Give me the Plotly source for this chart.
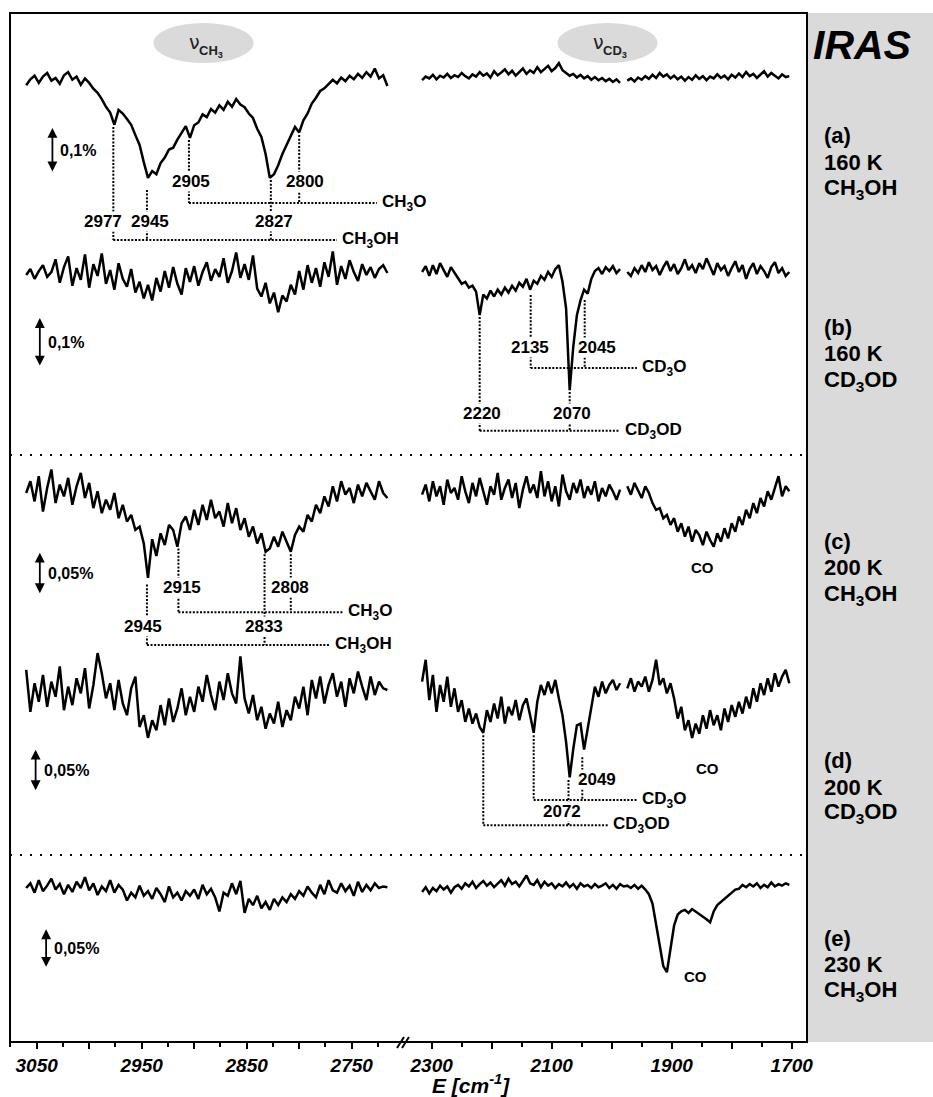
import numpy as np
import plotly.graph_objects as go

FONT = "Liberation Sans, Arial, Helvetica, sans-serif"

# ---------------------------------------------------------------- data
# wavenumber grids (cm^-1) of the two spectral windows
nu_CH = np.arange(3060, 2713, -4)   # nu(CH3) window, 87 points
nu_CD = np.arange(2316, 1700, -6)   # nu(CD3) / CO window, 103 points

# Delta R / R in units of 1e-5 (= 0.001 %); None marks a gap in the recording
a_ch = [-7, 6, 14, -2, 12, 20, 3, 9, -4, 15,
        22, 5, 12, -6, 8, -2, -15, -24, -38, -55,
        -68, -95, -62, -70, -82, -95, -118, -140, -178, -213,
        -198, -205, -180, -168, -150, -146, -128, -112, -98, -124,
        -96, -90, -72, -78, -60, -68, -52, -62, -44, -55,
        -38, -50, -56, -70, -80, -104, -122, -160, -213, -205,
        -185, -160, -140, -118, -100, -112, -85, -70, -48, -35,
        -20, -14, -4, 5, -3, 10, 2, 14, 6, 18,
        9, 22, 12, 30, 8, 15, -9]
a_cd = [4, 12, 8, 16, 6, 14, 10, 18, 9, 15,
        11, 20, 13, 8, 17, 12, 22, 14, 19, 10,
        24, 15, 21, 28, 17, 25, 14, 22, 30, 18,
        26, 20, 33, 22, 28, 36, 24, 31, 42, 26,
        20, 14, 18, 10, 16, 8, 13, 5, 11, 4,
        9, 2, 7, 0, 6, -2, None, 3, 8, 1,
        10, 5, 13, 7, 16, 9, 20, 12, 17, 8,
        14, 6, 12, 3, 11, 5, 15, 7, 13, 4,
        12, 8, 17, 9, 14, 6, 16, 10, 19, 11,
        22, 13, 18, 9, 16, 24, 12, 20, 14, 8,
        17, 11, 13]

b_ch = [-4, 8, -12, 4, 16, -8, 2, 28, -20, 12,
        34, -26, 10, -14, 38, -30, 18, -6, 40, -22,
        6, -34, 20, -12, -28, 8, -40, -18, -52, -24,
        -56, -10, -38, 4, -30, 12, -22, -44, 10, -18,
        14, -26, 2, 22, -16, 8, -8, 30, -20, 4,
        42, -10, 18, -14, 36, -32, -48, -20, -62, -40,
        -80, -46, -58, -24, -44, 4, -34, 16, -20, 10,
        -28, 22, -8, 44, -24, 14, -12, 26, 2, -16,
        18, -4, 12, -10, 8, 16, 0]
b_cd = [2, 14, -6, 16, -2, 20, 6, -8, 12, 0,
        -10, -22, -18, -30, -26, -38, -86, -44, -52, -36,
        -48, -34, -44, -30, -40, -26, -36, -20, -28, -12,
        -34, -16, -22, -6, -14, 2, -8, 8, 16, -18,
        -72, -239, -150, -86, -56, -34, -42, -12, 4, 10,
        -2, 12, 4, 14, 0, 8, None, 2, -6, 10,
        0, 16, 2, 22, 6, 14, -4, 12, 24, 4,
        18, -2, 10, 28, 6, 16, 0, 20, 8, 30,
        12, -4, 20, 6, 14, -6, 10, 24, 2, 16,
        -12, 8, 20, -2, 14, 4, -10, 12, 22, 0,
        10, -6, 2]

c_ch = [0, 14, -10, 20, -22, 6, 28, -12, 10, -4,
        18, -14, 8, 24, -6, 12, -18, 2, -24, -8,
        -20, 0, -30, -14, -34, -26, -44, -40, -60, -101,
        -55, -75, -48, -62, -38, -44, -64, -36, -28, -44,
        -20, -38, -14, -32, -8, -30, -22, -40, -12, -36,
        -18, -44, -30, -52, -40, -60, -48, -70, -66, -52,
        -64, -46, -58, -70, -50, -40, -46, -26, -34, -14,
        -24, -4, -16, 8, -10, 14, -2, 6, -12, 10,
        -4, 12, 2, -8, 14, 0, -6]
c_cd = [-2, 10, -10, 14, -4, 8, -14, 16, 0, 6,
        -8, 20, 2, -12, 12, -4, 18, 2, -14, 8,
        -2, 24, -8, 6, 16, -6, 12, -18, 4, 20,
        0, 10, -6, 26, -4, 14, -10, 8, -16, 22,
        2, -8, 12, 0, 16, -6, 8, -2, 14, -10,
        6, -4, 10, 2, -8, 4, None, 8, -2, 12,
        2, -6, 8, 0, -12, -20, -18, -30, -26, -38,
        -30, -46, -36, -52, -40, -58, -44, -50, -62, -46,
        -56, -64, -48, -58, -42, -54, -36, -46, -28, -38,
        -20, -30, -12, -24, -6, -16, 2, -8, 6, 20,
        -4, 8, 2]

d_ch = [24, -26, 8, -14, 18, -20, 10, -8, 28, -24,
        4, -18, 14, -4, 26, -22, 6, 44, 20, -10,
        8, -24, 12, -16, -30, 2, 16, -44, -30, -57,
        -36, -48, -18, -42, -10, -38, -22, 2, -30, -8,
        -26, 4, -14, 18, -6, -24, 10, -12, 20, -4,
        -16, 40, -10, -28, -6, -36, -20, -46, -28, -40,
        -14, -44, -24, -36, -8, -22, 4, -30, 12, -10,
        16, -16, 6, 20, -8, 10, -20, 14, -4, 22,
        4, -12, 16, -6, 10, 2, 0]
d_cd = [10, 36, -12, 18, -26, 6, -14, 16, -20, 2,
        -26, -12, -38, -22, -40, -28, -44, -51, -24, -38,
        -16, -34, -8, -40, -20, -30, -12, -36, -18, -10,
        -30, -51, -14, 6, -6, 10, -4, 12, -10, -30,
        -62, -104, -70, -42, -40, -71, -46, -20, 4, -8,
        10, -4, 6, 12, 0, 8, None, 2, 14, -2,
        10, 4, 16, -2, 12, 36, 6, 14, -4, 8,
        -10, -34, -20, -48, -36, -57, -40, -52, -30, -46,
        -24, -42, -30, -48, -22, -38, -18, -32, -14, -28,
        -8, -22, 2, -14, 8, -6, 14, -2, 20, 4,
        16, 24, 8]

e_ch = [0, 6, -6, 10, -4, 3, 12, -2, 5, -8,
        4, -5, 8, 0, 14, -3, 6, -9, 2, -4,
        10, -6, 4, -2, -16, -6, -12, 3, -10, -4,
        -14, 0, -8, -18, 2, -12, -6, -16, -4, -10,
        -2, -14, 4, -8, -1, -12, -30, -6, -10, 6,
        -8, 9, -32, -14, -22, -10, -26, -18, -28, -14,
        -22, -12, -18, -8, -14, -4, -10, 2, -6, -12,
        4, -8, 10, -3, -6, 6, -4, 3, -10, 8,
        -5, 4, -3, 6, 0, 2, 1]
e_cd = [-5, 1, -7, 0, -4, 3, -2, 2, -6, 1,
        4, -1, 6, 2, 8, 0, 5, 9, 3, 7,
        1, 6, 10, 3, 12, 5, 8, 2, 9, 16,
        6, 4, 10, 1, 8, 3, 6, 0, 5, 2,
        7, 1, 5, -1, 6, 2, 4, 0, 5, 1,
        3, 6, 0, 4, -1, 5, 2, 3, 0, 4,
        -1, 3, -2, -8, -20, -45, -75, -100, -108, -80,
        -48, -34, -30, -28, -32, -27, -30, -33, -36, -40,
        -44, -30, -22, -18, -15, -10, -6, -2, -1, 4,
        1, 5, 2, 6, 0, 4, 1, 7, 2, 5,
        3, 6, 4]

spectra = [(a_ch, a_cd), (b_ch, b_cd), (c_ch, c_cd), (d_ch, d_cd), (e_ch, e_cd)]

panel_labels = [("(a)", "160 K", "CH<sub>3</sub>OH"),
                ("(b)", "160 K", "CD<sub>3</sub>OD"),
                ("(c)", "200 K", "CH<sub>3</sub>OH"),
                ("(d)", "200 K", "CD<sub>3</sub>OD"),
                ("(e)", "230 K", "CH<sub>3</sub>OH")]

# scale bars: (row axis, wavenumber, top, length in 1e-5 units, text)
scale_bars = [("y", 3035, -102, 100, "0,1%"),
              ("y2", 3047, -92, 100, "0,1%"),
              ("y3", 3047, -71, 50, "0,05%"),
              ("y4", 3051, -71, 50, "0,05%"),
              ("y5", 3041, -53, 50, "0,05%")]

# band assignments per row
assign = [
    dict(xa="x", ya="y",
         bands=[(2977, -100, -351), (2945, -240, -351), (2905, -129, -269),
                (2827, -218, -351), (2800, -118, -269)],
         groups=[("CH<sub>3</sub>O", 2905, 2726, -269), ("CH<sub>3</sub>OH", 2977, 2764, -351)],
         labels=[("2977", 2987, -309), ("2945", 2942, -309), ("2827", 2824, -309),
                 ("2905", 2903, -222), ("2800", 2794.5, -222)]),
    dict(xa="x2", ya="y2",
         bands=[(2220, -90, -322), (2135, -45, -194), (2070, -243, -322), (2045, -55, -194)],
         groups=[("CD<sub>3</sub>O", 2135, 1958, -194), ("CD<sub>3</sub>OD", 2220, 1986, -322)],
         labels=[("2135", 2136, -153), ("2045", 2024, -153), ("2220", 2216, -286), ("2070", 2066, -286)]),
    dict(xa="x", ya="y3",
         bands=[(2945, -109, -181), (2915, -66, -142), (2833, -73, -181), (2808, -73, -142)],
         groups=[("CH<sub>3</sub>O", 2915, 2758, -142), ("CH<sub>3</sub>OH", 2945, 2771, -181)],
         labels=[("2915", 2911.5, -112), ("2808", 2808.5, -112), ("2945", 2949, -159), ("2833", 2833.5, -159)]),
    dict(xa="x2", ya="y4",
         bands=[(2214, -54, -161), (2130, -54, -131), (2072, -107, -161), (2049, -80, -131)],
         groups=[("CD<sub>3</sub>O", 2130, 1958, -131), ("CD<sub>3</sub>OD", 2214, 2006, -161)],
         labels=[("2049", 2024.5, -107), ("2072", 2083, -145)]),
]

# CO band labels: (row axis, wavenumber, level)
co_labels = [("y3", 1848, -89), ("y4", 1840, -93), ("y5", 1860, -113)]

# ---------------------------------------------------------------- layout geometry
W, H = 933, 1097
L, T, R, B = 10, 13, 807, 1042          # plot frame in pixels
row_axes = ["y", "y2", "y3", "y4", "y5"]
row_zero_px = [82, 273, 493, 690, 888]   # pixel height of zero for each row
row_px_per_unit = [0.45, 0.49, 0.84, 0.84, 0.78]


def px(x):
    return (x - L) / (R - L)


def py(y):
    return (B - y) / (B - T)


fig = go.Figure()

for ya, (ch, cd) in zip(row_axes, spectra):
    fig.add_trace(go.Scatter(x=nu_CH, y=ch, xaxis="x", yaxis=ya, mode="lines",
                             line=dict(color="black", width=2.5), hoverinfo="skip",
                             showlegend=False))
    fig.add_trace(go.Scatter(x=nu_CD, y=cd, xaxis="x2", yaxis=ya, mode="lines",
                             line=dict(color="black", width=2.5), hoverinfo="skip",
                             showlegend=False))

shapes = []
annotations = []
DOT = dict(color="black", width=2, dash="2px,1.6px")
BOLD = dict(family=FONT, size=17, color="black")

# grey side panel and frame
shapes.append(dict(type="rect", xref="paper", yref="paper", x0=1.0, x1=px(W), y0=0, y1=1,
                   fillcolor="#dadada", line=dict(width=0), layer="below"))
shapes.append(dict(type="rect", xref="paper", yref="paper", x0=0, x1=1, y0=0, y1=1,
                   line=dict(color="black", width=2)))
# separators between temperature groups
for ysep in (455, 855):
    shapes.append(dict(type="line", xref="paper", yref="paper", x0=0, x1=1, y0=py(ysep), y1=py(ysep),
                       line=dict(color="black", width=2, dash="2px,8px")))
# axis break marks
for x0 in (397, 402):
    shapes.append(dict(type="line", xref="paper", yref="paper", x0=px(x0), x1=px(x0 + 7),
                       y0=py(1048), y1=py(1037), line=dict(color="black", width=2)))
# band-region ellipses
for cx, sym, sub in ((203.5, "ν", "CH<sub>3</sub>"), (607.5, "ν", "CD<sub>3</sub>")):
    shapes.append(dict(type="circle", xref="paper", yref="paper", x0=px(cx - 50), x1=px(cx + 50),
                       y0=py(63), y1=py(23), fillcolor="#dadada", line=dict(width=0), layer="below"))
    annotations.append(dict(xref="paper", yref="paper", x=px(cx - 9), y=py(42), text=sym,
                            showarrow=False, xanchor="center", yanchor="middle",
                            font=dict(family="DejaVu Sans, sans-serif", size=19, color="#222")))
    annotations.append(dict(xref="paper", yref="paper", x=px(cx - 7), y=py(52), text="<b>" + sub + "</b>",
                            showarrow=False, xanchor="left", yanchor="middle",
                            font=dict(family=FONT, size=13, color="#222")))

# band assignments
for g in assign:
    xa, ya = g["xa"], g["ya"]
    for w, top, bottom in g["bands"]:
        shapes.append(dict(type="line", xref=xa, yref=ya, x0=w, x1=w, y0=top, y1=bottom, line=DOT))
    for text, w0, w1, lev in g["groups"]:
        shapes.append(dict(type="line", xref=xa, yref=ya, x0=w0, x1=w1, y0=lev, y1=lev, line=DOT))
        annotations.append(dict(xref=xa, yref=ya, x=w1, y=lev, text="<b>" + text + "</b>",
                                showarrow=False, xanchor="left", yanchor="middle", xshift=3,
                                font=BOLD))
    for text, xl, yl in g["labels"]:
        annotations.append(dict(xref=xa, yref=ya, x=xl, y=yl, text="<b>" + text + "</b>",
                                showarrow=False, xanchor="center", yanchor="middle",
                                bgcolor="white", borderpad=0, font=BOLD))

for ya, w, lev in co_labels:
    annotations.append(dict(xref="x2", yref=ya, x=w, y=lev, text="<b>CO</b>", showarrow=False,
                            xanchor="center", yanchor="middle",
                            font=dict(family=FONT, size=15, color="black")))

# scale bars
for ya, w, top, length, text in scale_bars:
    annotations.append(dict(xref="x", yref=ya, axref="x", ayref=ya, x=w, y=top, ax=w, ay=top - length,
                            text="", showarrow=True, arrowhead=2, startarrowhead=2,
                            arrowside="end+start", arrowsize=1.1, startarrowsize=1.1,
                            arrowwidth=1.8, arrowcolor="black", standoff=0, startstandoff=0))
    annotations.append(dict(xref="x", yref=ya, x=w, y=top - length / 2, text="<b>" + text + "</b>",
                            showarrow=False, xanchor="left", yanchor="middle", xshift=6,
                            font=dict(family=FONT, size=16, color="black")))

# side panel text
annotations.append(dict(xref="paper", yref="paper", x=px(811), y=py(45), text="<b><i>IRAS</i></b>",
                        showarrow=False, xanchor="left", yanchor="middle",
                        font=dict(family=FONT, size=41, color="black")))
panel_rows_px = [(135, 162, 189), (327, 354, 381), (541, 567, 595), (760, 787, 813), (938, 964, 991)]
for lines, ys in zip(panel_labels, panel_rows_px):
    for text, yy in zip(lines, ys):
        annotations.append(dict(xref="paper", yref="paper", x=px(822), y=py(yy), text="<b>" + text + "</b>",
                                showarrow=False, xanchor="left", yanchor="middle",
                                font=dict(family=FONT, size=22, color="black")))

# axis title
annotations.append(dict(xref="paper", yref="paper", x=px(471), y=py(1084),
                        text="<b><i>E [cm<sup>-1</sup>]</i></b>", showarrow=False,
                        xanchor="center", yanchor="middle",
                        font=dict(family=FONT, size=21, color="black")))

TICKFONT = dict(family=FONT, size=19, color="black", weight="bold", style="italic")
xcommon = dict(anchor="y", ticks="outside", ticklen=6, tickwidth=2, tickcolor="black",
               showgrid=False, zeroline=False, showline=False, automargin=False,
               tickfont=TICKFONT, fixedrange=True)

layout = dict(
    width=W, height=H, margin=dict(l=L, r=W - R, t=T, b=H - B),
    # overlapping row subplots must stay see-through
    paper_bgcolor="white", plot_bgcolor="rgba(0,0,0,0)", showlegend=False, hovermode=False,
    xaxis=dict(domain=[0, px(400)], range=[3075.4, 2704.0], tickmode="array",
               tickvals=[3050, 3000, 2950, 2900, 2850, 2800, 2750],
               ticktext=["3050", "", "2950", "", "2850", "", "2750"],
               minor=dict(tickmode="linear", tick0=3025, dtick=50, ticks="outside", ticklen=4,
                          tickwidth=2, tickcolor="black"),
               **xcommon),
    xaxis2=dict(domain=[px(406), 1], range=[2342.8, 1674.5], tickmode="array",
                tickvals=[2300, 2200, 2100, 2000, 1900, 1800, 1700],
                ticktext=["2300", "", "2100", "", "1900", "", "1700"],
                minor=dict(tickmode="linear", tick0=2250, dtick=100, ticks="outside", ticklen=4,
                           tickwidth=2, tickcolor="black"),
                **xcommon),
    shapes=shapes, annotations=annotations,
)
for i, (ya, z, s) in enumerate(zip(row_axes, row_zero_px, row_px_per_unit)):
    key = "yaxis" if i == 0 else "yaxis%d" % (i + 1)
    layout[key] = dict(domain=[0, 1], range=[(z - B) / s, (z - T) / s], visible=False,
                       fixedrange=True, anchor="x")

fig.update_layout(**layout)
fig.write_html("out.html")
